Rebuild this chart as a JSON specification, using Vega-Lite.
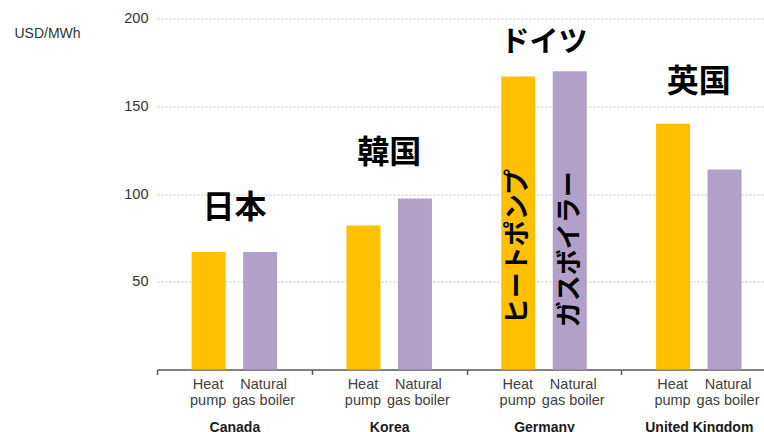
{
  "$schema": "https://vega.github.io/schema/vega-lite/v6.json",
  "autosize": {"type": "none"},
  "padding": {"left": 157, "top": 18.5, "right": 0, "bottom": 62.5},
  "width": 607,
  "height": 351,
  "background": "white",
  "config": {
    "view": {"stroke": null},
    "font": "Liberation Sans"
  },
  "datasets": {
    "bars": [
      {"country": "Canada", "type": "Heat pump", "label": "Heat\npump", "value": 67},
      {"country": "Canada", "type": "Natural gas boiler", "label": "Natural\ngas boiler", "value": 67},
      {"country": "Korea", "type": "Heat pump", "label": "Heat\npump", "value": 82},
      {"country": "Korea", "type": "Natural gas boiler", "label": "Natural\ngas boiler", "value": 97.5},
      {"country": "Germany", "type": "Heat pump", "label": "Heat\npump", "value": 167},
      {"country": "Germany", "type": "Natural gas boiler", "label": "Natural\ngas boiler", "value": 170},
      {"country": "United Kingdom", "type": "Heat pump", "label": "Heat\npump", "value": 140},
      {"country": "United Kingdom", "type": "Natural gas boiler", "label": "Natural\ngas boiler", "value": 114}
    ],
    "notes": [
      {"country": "Canada", "jp": "日本", "at": 92},
      {"country": "Korea", "jp": "韓国", "at": 123.5},
      {"country": "Germany", "jp": "ドイツ", "at": 186},
      {"country": "United Kingdom", "jp": "英国", "at": 164}
    ],
    "inner": [
      {"country": "Germany", "type": "Heat pump", "jp": "ヒートポンプ", "at": 70},
      {"country": "Germany", "type": "Natural gas boiler", "jp": "ガスボイラー", "at": 68.5}
    ]
  },
  "encoding": {
    "x": {
      "field": "country",
      "type": "nominal",
      "sort": ["Canada", "Korea", "Germany", "United Kingdom"],
      "scale": {"range": [0, 619.2], "paddingInner": 0, "paddingOuter": 0},
      "axis": {
        "title": null,
        "labelAngle": 0,
        "labelFont": "Liberation Sans",
        "labelFontSize": 14,
        "labelFontWeight": "bold",
        "labelColor": "#1a1a1a",
        "labelPadding": 46,
        "tickBand": "extent",
        "tickSize": 5,
        "tickColor": "#595959",
        "domainColor": "#595959",
        "domainWidth": 1.5,
        "tickWidth": 1.5,
        "grid": false
      }
    },
    "xOffset": {
      "field": "type",
      "type": "nominal",
      "sort": ["Heat pump", "Natural gas boiler"],
      "scale": {"paddingInner": 0.34, "paddingOuter": 0.673}
    }
  },
  "layer": [
    {
      "data": {"name": "bars"},
      "mark": {"type": "bar"},
      "encoding": {
        "y": {
          "field": "value",
          "type": "quantitative",
          "scale": {"domain": [0, 200], "nice": false},
          "axis": {
            "title": "USD/MWh",
            "titleAngle": 0,
            "titleAlign": "left",
            "titleBaseline": "middle",
            "titleX": -143,
            "titleY": 14.5,
            "titleFont": "Liberation Sans",
            "titleFontSize": 14,
            "titleFontWeight": "normal",
            "titleColor": "#333333",
            "values": [50, 100, 150, 200],
            "domain": false,
            "ticks": false,
            "labelFont": "Liberation Sans",
            "labelFontSize": 14.5,
            "labelColor": "#333333",
            "labelPadding": 9,
            "grid": true,
            "gridColor": "#bfbfbf",
            "gridDash": [2, 2],
            "gridWidth": 1
          }
        },
        "color": {
          "field": "type",
          "type": "nominal",
          "scale": {"domain": ["Heat pump", "Natural gas boiler"], "range": ["#FFC000", "#B1A0C7"]},
          "legend": null
        }
      }
    },
    {
      "data": {"name": "bars"},
      "transform": [{"filter": "datum.type === 'Heat pump'"}],
      "mark": {"type": "text", "baseline": "alphabetic", "align": "center", "dx": -0.5, "dy": 19.5, "lineBreak": "\n", "lineHeight": 16, "fontSize": 14.5, "font": "Liberation Sans", "color": "#404040"},
      "encoding": {
        "y": {"datum": 0, "type": "quantitative"},
        "text": {"field": "label", "type": "nominal"}
      }
    },
    {
      "data": {"name": "bars"},
      "transform": [{"filter": "datum.type === 'Natural gas boiler'"}],
      "mark": {"type": "text", "baseline": "alphabetic", "align": "center", "dx": 3.5, "dy": 19.5, "lineBreak": "\n", "lineHeight": 16, "fontSize": 14.5, "font": "Liberation Sans", "color": "#404040"},
      "encoding": {
        "y": {"datum": 0, "type": "quantitative"},
        "text": {"field": "label", "type": "nominal"}
      }
    },
    {
      "data": {"name": "notes"},
      "mark": {"type": "text", "baseline": "middle", "align": "center", "fontWeight": "bold", "font": "Noto Sans CJK JP", "color": "#000000"},
      "encoding": {
        "xOffset": null,
        "y": {"field": "at", "type": "quantitative"},
        "text": {"field": "jp", "type": "nominal"},
        "size": {"condition": {"test": "datum.country === 'Germany'", "value": 29}, "value": 32}
      }
    },
    {
      "data": {"name": "inner"},
      "mark": {"type": "text", "baseline": "middle", "align": "center", "angle": 270, "fontSize": 26, "fontWeight": "bold", "font": "Noto Sans CJK JP", "color": "#000000"},
      "encoding": {
        "y": {"field": "at", "type": "quantitative"},
        "text": {"field": "jp", "type": "nominal"}
      }
    }
  ]
}
